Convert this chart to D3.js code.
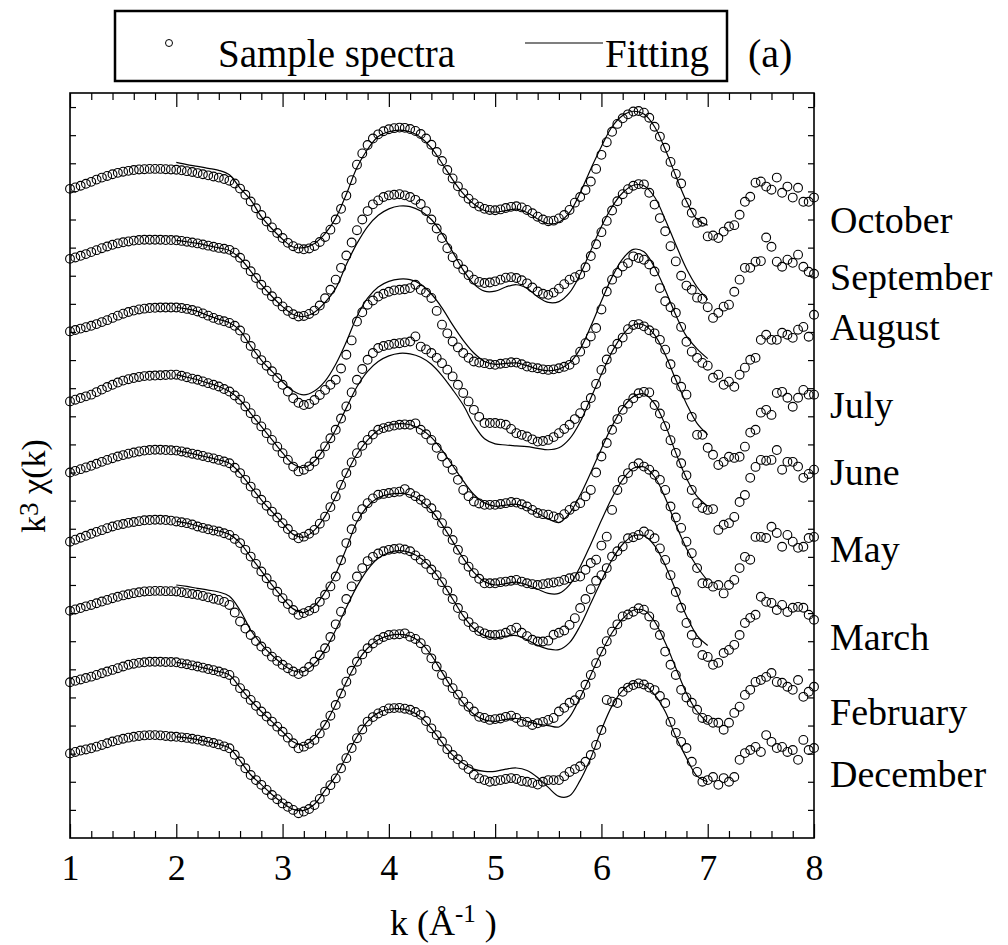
<!DOCTYPE html>
<html>
<head>
<meta charset="utf-8">
<script src="https://cdn.jsdelivr.net/npm/d3@7"></script>
<style>
  body { margin: 0; background: #fff; }
  svg { display: block; font-family: "Liberation Serif", "Times New Roman", serif; }
</style>
</head>
<body>
<div id="chart"></div>
<script>
// sampling of the measured spectra and of the fitted curves (k, 1/A)
var kStart = 1, kStep = 0.05, kCount = 141;
var fitStart = 2, fitStep = 0.1, fitCount = 51;

var months = ['October', 'September', 'August', 'July', 'June', 'May', 'March', 'February', 'December'];
// vertical shift of every spectrum, in y units
var offsets = [23, 20.5, 18, 15.5, 13, 10.5, 8, 5.5, 3];
// where the month names sit, in y units
var labelLevels = [21.53, 19.5, 17.72, 14.95, 12.56, 9.82, 6.69, 4.02, 1.81];

var xTicks = [1, 2, 3, 4, 5, 6, 7, 8];

// k^3 chi(k), one row per unit of k (k = 1.00 ... 1.95, 2.00 ... 2.95, ...)
var octSpectra = [
  0.09, 0.14, 0.20, 0.27, 0.34, 0.42, 0.49, 0.55, 0.61, 0.66, 0.70, 0.73, 0.76, 0.78, 0.79, 0.80, 0.80, 0.80, 0.79, 0.78,
  0.77, 0.75, 0.72, 0.69, 0.65, 0.61, 0.57, 0.53, 0.49, 0.44, 0.38, 0.28, 0.10, -0.12, -0.36, -0.60, -0.84, -1.07, -1.28, -1.48,
  -1.66, -1.83, -1.95, -2.03, -2.06, -2.03, -1.94, -1.80, -1.62, -1.36, -1.00, -0.62, -0.15, 0.40, 0.95, 1.35, 1.65, 1.88, 2.03, 2.14,
  2.21, 2.25, 2.27, 2.26, 2.22, 2.15, 2.04, 1.88, 1.66, 1.40, 1.08, 0.76, 0.46, 0.18, -0.06, -0.26, -0.42, -0.54, -0.62, -0.66,
  -0.67, -0.64, -0.59, -0.55, -0.53, -0.57, -0.66, -0.78, -0.90, -1.00, -1.06, -1.04, -0.96, -0.84, -0.66, -0.40, -0.20, 0.05, 0.35, 0.80,
  1.30, 1.75, 2.12, 2.40, 2.60, 2.74, 2.84, 2.86, 2.80, 2.62, 2.30, 1.95, 1.55, 1.05, 0.62, 0.28, -0.40, -0.76, -1.12, -1.08,
  -1.60, -1.57, -1.66, -1.43, -1.25, -1.20, -0.83, -0.37, -0.19, 0.31, 0.35, 0.17, 0.06, 0.49, -0.05, 0.17, -0.22, 0.13, -0.37, -0.37,
  -0.22
];
var sepSpectra = [
  0.10, 0.15, 0.21, 0.27, 0.34, 0.41, 0.48, 0.54, 0.60, 0.65, 0.69, 0.72, 0.75, 0.77, 0.78, 0.78, 0.78, 0.78, 0.77, 0.77,
  0.76, 0.74, 0.71, 0.68, 0.65, 0.61, 0.57, 0.53, 0.49, 0.46, 0.42, 0.32, 0.14, -0.10, -0.34, -0.58, -0.82, -1.03, -1.23, -1.42,
  -1.59, -1.75, -1.87, -1.95, -1.93, -1.86, -1.74, -1.56, -1.30, -1.00, -0.64, -0.22, 0.22, 0.68, 1.12, 1.50, 1.80, 2.04, 2.18, 2.30,
  2.36, 2.38, 2.40, 2.36, 2.30, 2.20, 2.05, 1.80, 1.50, 1.18, 0.84, 0.48, 0.16, -0.08, -0.28, -0.48, -0.64, -0.72, -0.76, -0.74,
  -0.70, -0.64, -0.57, -0.55, -0.58, -0.66, -0.77, -0.92, -1.06, -1.14, -1.18, -1.10, -0.96, -0.80, -0.64, -0.55, -0.46, -0.20, 0.20, 0.62,
  1.05, 1.45, 1.82, 2.15, 2.40, 2.58, 2.70, 2.76, 2.75, 2.45, 2.03, 1.55, 1.08, 0.55, 0.01, -0.50, -0.85, -1.00, -1.28, -1.32,
  -1.62, -2.00, -1.82, -1.60, -1.53, -1.07, -0.64, -0.22, -0.22, 0.00, 0.02, 0.86, 0.53, 0.00, -0.18, 0.07, -0.04, 0.25, -0.18, -0.36,
  -0.43
];
var augSpectra = [
  0.02, 0.07, 0.12, 0.17, 0.22, 0.28, 0.35, 0.42, 0.50, 0.58, 0.65, 0.71, 0.76, 0.80, 0.83, 0.85, 0.86, 0.87, 0.87, 0.87,
  0.87, 0.85, 0.82, 0.78, 0.73, 0.66, 0.58, 0.50, 0.43, 0.38, 0.32, 0.22, 0.05, -0.22, -0.50, -0.78, -1.00, -1.20, -1.40, -1.64,
  -1.88, -2.12, -2.36, -2.52, -2.60, -2.56, -2.42, -2.24, -2.06, -1.88, -1.70, -1.30, -0.81, -0.30, 0.37, 0.70, 0.97, 1.12, 1.26, 1.36,
  1.43, 1.48, 1.50, 1.52, 1.56, 1.68, 1.50, 1.40, 1.21, 0.75, 0.26, -0.05, -0.34, -0.55, -0.75, -0.92, -1.05, -1.09, -1.11, -1.15,
  -1.17, -1.13, -1.11, -1.08, -1.09, -1.15, -1.23, -1.26, -1.29, -1.33, -1.35, -1.33, -1.29, -1.24, -1.17, -1.00, -0.70, -0.40, -0.16, 0.14,
  0.80, 1.44, 1.86, 2.10, 2.33, 2.45, 2.69, 2.63, 2.57, 2.40, 2.15, 1.56, 1.09, 0.88, 0.68, 0.18, -0.35, -0.70, -0.92, -1.10,
  -1.20, -1.63, -1.52, -1.88, -1.77, -1.95, -1.52, -1.27, -0.99, -0.92, -0.28, -0.10, -0.28, -0.28, -0.03, -0.10, -0.21, 0.08, 0.18, -0.17,
  0.61
];
var julSpectra = [
  0.03, 0.09, 0.15, 0.21, 0.27, 0.36, 0.45, 0.54, 0.62, 0.70, 0.77, 0.82, 0.86, 0.90, 0.93, 0.94, 0.95, 0.96, 0.97, 0.98,
  0.98, 0.94, 0.89, 0.84, 0.80, 0.74, 0.68, 0.62, 0.56, 0.47, 0.38, 0.24, 0.09, -0.15, -0.39, -0.62, -0.86, -1.10, -1.34, -1.58,
  -1.81, -2.05, -2.29, -2.46, -2.40, -2.28, -2.11, -1.86, -1.57, -1.28, -0.98, -0.58, -0.15, 0.35, 0.80, 1.18, 1.51, 1.75, 1.93, 2.00,
  2.04, 2.08, 2.10, 2.13, 2.16, 2.34, 1.98, 1.88, 1.75, 1.58, 1.39, 1.16, 0.92, 0.62, 0.33, 0.03, -0.27, -0.52, -0.74, -0.74,
  -0.74, -0.76, -0.80, -0.95, -1.10, -1.16, -1.22, -1.32, -1.40, -1.38, -1.34, -1.24, -1.10, -0.95, -0.80, -0.60, -0.39, -0.12, 0.15, 0.65,
  1.15, 1.52, 1.87, 2.08, 2.30, 2.60, 2.75, 2.78, 2.70, 2.56, 2.45, 2.22, 1.87, 1.35, 0.80, 0.55, 0.27, -0.52, -1.16, -1.16,
  -1.62, -1.87, -2.23, -2.12, -1.94, -1.98, -1.94, -1.58, -1.08, -0.98, -0.37, -0.27, -0.45, 0.33, 0.37, 0.16, -0.16, 0.16, 0.44, 0.27,
  0.27
];
var junSpectra = [
  0.00, 0.06, 0.12, 0.18, 0.24, 0.31, 0.38, 0.45, 0.51, 0.57, 0.62, 0.67, 0.71, 0.75, 0.78, 0.80, 0.81, 0.81, 0.80, 0.79,
  0.78, 0.75, 0.71, 0.67, 0.63, 0.59, 0.54, 0.50, 0.45, 0.39, 0.33, 0.17, -0.02, -0.26, -0.50, -0.74, -0.97, -1.18, -1.39, -1.60,
  -1.80, -2.01, -2.22, -2.34, -2.28, -2.18, -2.04, -1.82, -1.57, -1.23, -0.85, -0.44, -0.02, 0.36, 0.69, 0.95, 1.16, 1.35, 1.52, 1.58,
  1.63, 1.67, 1.70, 1.71, 1.70, 1.75, 1.52, 1.36, 1.16, 0.88, 0.57, 0.34, 0.10, -0.26, -0.62, -0.84, -1.03, -1.10, -1.15, -1.15,
  -1.15, -1.12, -1.09, -1.05, -1.07, -1.13, -1.21, -1.33, -1.44, -1.48, -1.50, -1.56, -1.62, -1.48, -1.33, -1.20, -1.09, -0.85, -0.62, 0.00,
  0.57, 1.05, 1.52, 1.90, 2.23, 2.45, 2.64, 2.82, 2.87, 2.85, 2.40, 2.10, 1.65, 1.15, 0.70, 0.33, -0.10, -0.62, -1.09, -1.26,
  -1.33, -1.30, -2.04, -1.86, -1.80, -1.58, -1.05, -0.80, -0.19, 0.20, 0.45, 0.42, 0.45, 0.80, 0.10, 0.38, 0.38, 0.21, -0.19, -0.05,
  0.10
];
var maySpectra = [
  0.04, 0.11, 0.18, 0.25, 0.32, 0.39, 0.45, 0.52, 0.58, 0.63, 0.67, 0.71, 0.74, 0.77, 0.80, 0.81, 0.82, 0.82, 0.81, 0.79,
  0.76, 0.73, 0.70, 0.65, 0.58, 0.53, 0.48, 0.44, 0.40, 0.34, 0.28, 0.14, -0.01, -0.25, -0.49, -0.75, -1.02, -1.26, -1.50, -1.74,
  -1.97, -2.18, -2.39, -2.56, -2.50, -2.42, -2.33, -2.10, -1.85, -1.55, -1.20, -0.62, -0.01, 0.48, 0.93, 1.20, 1.41, 1.58, 1.71, 1.74,
  1.77, 1.80, 1.82, 1.91, 1.77, 1.66, 1.53, 1.40, 1.23, 0.98, 0.70, 0.40, 0.10, -0.25, -0.61, -0.85, -1.08, -1.28, -1.44, -1.44,
  -1.44, -1.40, -1.38, -1.35, -1.32, -1.38, -1.44, -1.47, -1.50, -1.47, -1.44, -1.41, -1.38, -1.32, -1.26, -1.22, -1.20, -0.96, -0.72, -0.60,
  -0.10, 0.22, 1.17, 1.88, 2.24, 2.48, 2.71, 2.83, 2.71, 2.60, 2.42, 2.24, 1.88, 1.29, 0.90, 0.53, 0.04, -0.37, -0.90, -1.44,
  -1.44, -1.56, -1.50, -1.80, -1.50, -1.32, -0.90, -0.50, -0.60, 0.21, 0.21, 0.17, 0.57, 0.35, -0.14, 0.28, 0.04, -0.18, -0.14, 0.17,
  0.21
];
var marSpectra = [
  0.08, 0.13, 0.18, 0.24, 0.29, 0.35, 0.41, 0.47, 0.53, 0.58, 0.63, 0.67, 0.71, 0.74, 0.77, 0.78, 0.79, 0.79, 0.78, 0.78,
  0.77, 0.74, 0.71, 0.68, 0.65, 0.61, 0.56, 0.51, 0.47, 0.40, 0.29, 0.02, -0.30, -0.55, -0.78, -0.99, -1.19, -1.37, -1.55, -1.70,
  -1.84, -1.96, -2.08, -2.17, -2.08, -1.92, -1.73, -1.50, -1.25, -0.85, -0.40, 0.05, 0.50, 0.95, 1.30, 1.60, 1.85, 2.00, 2.12, 2.20,
  2.25, 2.28, 2.30, 2.26, 2.20, 2.05, 1.90, 1.75, 1.55, 1.35, 1.10, 0.80, 0.50, 0.18, -0.10, -0.32, -0.50, -0.64, -0.72, -0.78,
  -0.78, -0.76, -0.70, -0.60, -0.52, -0.70, -0.82, -0.95, -1.01, -1.01, -0.98, -0.77, -0.70, -0.62, -0.42, -0.18, 0.18, 0.50, 0.85, 1.15,
  1.35, 1.60, 2.01, 2.20, 2.37, 2.66, 2.70, 2.78, 2.90, 2.80, 2.66, 2.30, 1.89, 1.35, 0.75, 0.19, -0.35, -0.78, -1.06, -1.49,
  -1.56, -1.84, -1.77, -1.42, -1.31, -1.13, -0.78, -0.35, -0.17, -0.06, 0.58, 0.40, 0.36, 0.11, 0.29, 0.04, 0.19, 0.22, 0.19, -0.06,
  -0.24
];
var febSpectra = [
  0.04, 0.09, 0.14, 0.19, 0.24, 0.30, 0.36, 0.42, 0.48, 0.54, 0.60, 0.66, 0.70, 0.73, 0.75, 0.77, 0.77, 0.77, 0.76, 0.76,
  0.75, 0.71, 0.68, 0.64, 0.60, 0.56, 0.51, 0.47, 0.42, 0.36, 0.30, 0.08, -0.17, -0.38, -0.59, -0.80, -1.00, -1.18, -1.36, -1.54,
  -1.72, -1.93, -2.13, -2.31, -2.25, -2.15, -2.01, -1.78, -1.48, -1.15, -0.77, -0.36, 0.06, 0.45, 0.77, 1.03, 1.25, 1.42, 1.55, 1.65,
  1.72, 1.74, 1.75, 1.78, 1.66, 1.58, 1.43, 1.20, 0.89, 0.60, 0.30, 0.06, -0.17, -0.40, -0.65, -0.83, -1.00, -1.19, -1.23, -1.30,
  -1.27, -1.25, -1.19, -1.15, -1.23, -1.37, -1.37, -1.48, -1.42, -1.37, -1.30, -1.23, -1.00, -0.87, -0.69, -0.60, -0.41, -0.05, 0.30, 0.72,
  1.13, 1.50, 1.84, 2.10, 2.38, 2.45, 2.55, 2.67, 2.62, 2.38, 2.08, 1.72, 1.13, 0.66, 0.30, -0.23, -0.50, -0.69, -0.94, -1.23,
  -1.30, -1.40, -1.40, -1.65, -1.40, -1.05, -0.83, -0.41, -0.23, 0.05, 0.12, 0.23, 0.37, 0.05, 0.02, -0.12, -0.23, 0.12, -0.48, -0.30,
  -0.12
];
var decSpectra = [
  0.01, 0.06, 0.11, 0.15, 0.19, 0.25, 0.31, 0.37, 0.43, 0.48, 0.53, 0.57, 0.60, 0.63, 0.65, 0.66, 0.66, 0.65, 0.63, 0.61,
  0.60, 0.58, 0.56, 0.53, 0.50, 0.46, 0.42, 0.38, 0.33, 0.26, 0.19, -0.04, -0.28, -0.52, -0.76, -0.94, -1.11, -1.29, -1.47, -1.62,
  -1.77, -1.89, -2.00, -2.12, -2.06, -1.97, -1.83, -1.61, -1.35, -1.12, -0.88, -0.52, -0.16, 0.20, 0.55, 0.86, 1.14, 1.30, 1.43, 1.52,
  1.61, 1.62, 1.63, 1.60, 1.56, 1.48, 1.38, 1.16, 0.90, 0.66, 0.43, 0.16, -0.05, -0.20, -0.40, -0.55, -0.75, -0.88, -0.94, -1.00,
  -0.97, -0.94, -0.90, -0.87, -0.90, -0.97, -1.00, -1.04, -1.10, -1.00, -0.94, -0.94, -0.94, -0.80, -0.65, -0.55, -0.45, -0.29, -0.05, 0.31,
  0.84, 1.91, 1.85, 1.80, 2.20, 2.35, 2.44, 2.50, 2.46, 2.35, 2.26, 2.05, 1.80, 1.13, 0.74, 0.42, 0.20, -0.29, -0.65, -1.00,
  -0.94, -0.83, -1.11, -0.87, -1.00, -0.83, -0.22, 0.02, 0.13, 0.24, 0.06, 0.66, 0.42, 0.20, 0.24, 0.06, 0.13, -0.22, 0.49, 0.13,
  0.20
];

// fitted curves, k = 2.0 ... 7.0 in steps of 0.1
var octFit = [
  1.03, 0.95, 0.89, 0.82, 0.75, 0.59, 0.12, -0.30, -0.90, -1.33,
  -1.70, -1.98, -2.00, -1.85, -1.50, -0.95, -0.10, 0.85, 1.50, 1.95,
  2.12, 2.18, 2.12, 1.92, 1.55, 1.00, 0.42, -0.08, -0.45, -0.68,
  -0.74, -0.68, -0.63, -0.75, -0.98, -1.15, -1.10, -0.75, -0.05, 0.80,
  1.60, 2.30, 2.70, 2.85, 2.75, 2.30, 1.50, 0.55, -0.35, -1.00,
  -1.20
];
var sepFit = [
  0.76, 0.71, 0.65, 0.57, 0.49, 0.40, 0.12, -0.34, -0.82, -1.24,
  -1.60, -1.88, -1.95, -1.80, -1.45, -0.95, -0.10, 0.65, 1.25, 1.65,
  1.88, 1.98, 1.96, 1.80, 1.50, 1.00, 0.35, -0.30, -0.80, -1.05,
  -1.05, -0.90, -0.82, -0.95, -1.25, -1.45, -1.42, -1.10, -0.45, 0.40,
  1.25, 1.95, 2.45, 2.72, 2.70, 2.30, 1.50, 0.60, -0.25, -0.90,
  -1.35
];
var augFit = [
  0.87, 0.82, 0.73, 0.58, 0.45, 0.33, 0.05, -0.50, -1.00, -1.40,
  -1.78, -2.10, -2.24, -2.10, -1.75, -1.15, -0.35, 0.55, 1.20, 1.60,
  1.80, 1.88, 1.86, 1.70, 1.35, 0.86, 0.25, -0.30, -0.75, -1.05,
  -1.15, -1.12, -1.10, -1.20, -1.32, -1.38, -1.32, -1.10, -0.60, 0.20,
  1.10, 1.95, 2.60, 2.94, 2.85, 2.30, 1.50, 0.60, -0.15, -0.60,
  -0.95
];
var julFit = [
  0.98, 0.89, 0.80, 0.68, 0.56, 0.38, 0.08, -0.40, -0.86, -1.33,
  -1.80, -2.20, -2.32, -2.10, -1.60, -0.98, -0.20, 0.55, 1.10, 1.45,
  1.65, 1.74, 1.72, 1.60, 1.35, 0.95, 0.45, -0.10, -0.80, -1.30,
  -1.48, -1.52, -1.55, -1.58, -1.64, -1.69, -1.62, -1.30, -0.70, 0.15,
  1.00, 1.80, 2.40, 2.75, 2.75, 2.40, 1.70, 0.80, -0.05, -0.75,
  -1.15
];
var junFit = [
  0.78, 0.71, 0.63, 0.54, 0.45, 0.33, -0.02, -0.50, -0.97, -1.39,
  -1.80, -2.20, -2.30, -2.05, -1.55, -0.85, -0.05, 0.65, 1.15, 1.50,
  1.68, 1.74, 1.70, 1.55, 1.25, 0.80, 0.25, -0.30, -0.78, -1.08,
  -1.20, -1.16, -1.13, -1.25, -1.45, -1.65, -1.78, -1.45, -0.80, 0.00,
  0.85, 1.65, 2.30, 2.70, 2.80, 2.45, 1.70, 0.70, -0.20, -0.85,
  -1.20
];
var mayFit = [
  0.76, 0.70, 0.60, 0.50, 0.42, 0.30, 0.00, -0.50, -1.00, -1.50,
  -1.95, -2.35, -2.48, -2.25, -1.75, -1.10, -0.20, 0.75, 1.30, 1.60,
  1.72, 1.76, 1.70, 1.50, 1.15, 0.65, 0.05, -0.55, -1.05, -1.38,
  -1.50, -1.45, -1.40, -1.50, -1.65, -1.80, -1.80, -1.50, -0.85, -0.05,
  0.80, 1.60, 2.25, 2.65, 2.70, 2.35, 1.60, 0.65, -0.20, -0.85,
  -1.35
];
var marFit = [
  1.00, 0.95, 0.88, 0.82, 0.75, 0.60, 0.10, -0.60, -1.10, -1.50,
  -1.82, -2.05, -2.08, -1.80, -1.30, -0.60, 0.20, 0.95, 1.55, 1.95,
  2.15, 2.22, 2.15, 1.95, 1.60, 1.10, 0.50, -0.10, -0.55, -0.80,
  -0.88, -0.82, -0.80, -0.95, -1.15, -1.28, -1.30, -1.05, -0.45, 0.35,
  1.15, 1.90, 2.45, 2.75, 2.75, 2.40, 1.70, 0.80, -0.10, -0.80,
  -1.15
];
var febFit = [
  0.75, 0.68, 0.60, 0.51, 0.42, 0.30, -0.15, -0.60, -1.00, -1.36,
  -1.72, -2.08, -2.20, -1.95, -1.45, -0.75, 0.05, 0.75, 1.25, 1.55,
  1.70, 1.74, 1.68, 1.45, 1.00, 0.40, -0.20, -0.70, -1.10, -1.30,
  -1.35, -1.28, -1.25, -1.35, -1.45, -1.50, -1.55, -1.20, -0.50, 0.30,
  1.10, 1.80, 2.30, 2.60, 2.60, 2.20, 1.45, 0.55, -0.35, -1.00,
  -1.40
];
var decFit = [
  0.60, 0.56, 0.50, 0.42, 0.33, 0.20, -0.25, -0.75, -1.10, -1.45,
  -1.75, -1.98, -2.02, -1.80, -1.30, -0.80, -0.10, 0.60, 1.15, 1.45,
  1.58, 1.60, 1.52, 1.30, 0.90, 0.40, -0.05, -0.35, -0.55, -0.63,
  -0.63, -0.55, -0.51, -0.60, -0.85, -1.20, -1.52, -1.50, -0.95, -0.15,
  0.85, 1.70, 2.25, 2.50, 2.45, 2.10, 1.50, 0.60, -0.15, -0.80,
  -1.00
];

var spectra = [octSpectra, sepSpectra, augSpectra, julSpectra, junSpectra, maySpectra, marSpectra, febSpectra, decSpectra];
var fits = [octFit, sepFit, augFit, julFit, junFit, mayFit, marFit, febFit, decFit];


SpectraChart = (function() {
    function SpectraChart(selector) {
        var self = this;
        self.container = d3.select(selector);
        self.margin = m = { top: 93, left: 70, right: 194, bottom: 107 };
        self.totalWidth = 1008;
        self.totalHeight = 945;
        self.width = self.totalWidth - m.left - m.right;
        self.height = self.totalHeight - m.top - m.bottom;

        self.x = d3.scaleLinear().domain([1, 8]).range([0, self.width]);
        self.y = d3.scaleLinear().domain([0, 26.5]).range([self.height, 0]);

        self.series = months.map(function(name, i) {
            return { name: name, offset: offsets[i], level: labelLevels[i], values: spectra[i], fit: fits[i] };
        });

        self.drawBase();
        self.drawAxes();
        self.drawSeries();
        self.drawLegend();
    }

    SpectraChart.prototype.drawBase = function() {
        var self = this;
        var m = self.margin;
        self.svg = self.container.append('svg')
            .attr('width', self.totalWidth)
            .attr('height', self.totalHeight);
        self.svg.append('rect')
            .attr('width', self.totalWidth)
            .attr('height', self.totalHeight)
            .attr('fill', '#fff');
        self.chart = self.svg.append('g')
            .attr('transform', 'translate(' + m.left + ',' + m.top + ')');
    };

    SpectraChart.prototype.drawAxes = function() {
        var self = this;
        var x = self.x, y = self.y;
        var minor = d3.range(5, 41).filter(function(i) { return i % 5 !== 0; }).map(function(i) { return i / 5; });
        var yTicks = d3.range(1, 27);

        function style(g) {
            g.select('.domain').remove();
            g.selectAll('line').attr('stroke', '#000').attr('stroke-width', 1.2);
            g.attr('font-family', null);
        }

        // major and minor k ticks, bottom and top, pointing inside
        self.chart.append('g')
            .attr('transform', 'translate(0,' + self.height + ')')
            .call(d3.axisBottom(x).tickValues(xTicks).tickSize(-14).tickSizeOuter(0).tickPadding(16).tickFormat(d3.format('d')))
            .call(style)
            .attr('font-size', 36)
            .selectAll('text').attr('fill', '#000');
        self.chart.append('g')
            .attr('transform', 'translate(0,' + self.height + ')')
            .call(d3.axisBottom(x).tickValues(minor).tickSize(-7).tickSizeOuter(0).tickFormat(''))
            .call(style);
        self.chart.append('g')
            .call(d3.axisTop(x).tickValues(xTicks).tickSize(-14).tickSizeOuter(0).tickFormat(''))
            .call(style);
        self.chart.append('g')
            .call(d3.axisTop(x).tickValues(minor).tickSize(-7).tickSizeOuter(0).tickFormat(''))
            .call(style);

        // plain y ticks on both sides, no labels
        self.chart.append('g')
            .call(d3.axisLeft(y).tickValues(yTicks).tickSize(-6).tickSizeOuter(0).tickFormat(''))
            .call(style);
        self.chart.append('g')
            .attr('transform', 'translate(' + self.width + ',0)')
            .call(d3.axisRight(y).tickValues(yTicks).tickSize(-6).tickSizeOuter(0).tickFormat(''))
            .call(style);

        self.chart.append('rect')
            .attr('width', self.width)
            .attr('height', self.height)
            .attr('fill', 'none')
            .attr('stroke', '#000')
            .attr('stroke-width', 1.6);

        // axis titles
        var xt = self.svg.append('text')
            .attr('x', 390)
            .attr('y', 935)
            .attr('font-size', 36)
            .attr('fill', '#000');
        xt.append('tspan').text('k (\u00C5');
        xt.append('tspan').attr('font-size', 25).attr('dy', -13).text('-1');
        xt.append('tspan').attr('dy', 13).text(' )');

        var yt = self.svg.append('text')
            .attr('transform', 'translate(45,486) rotate(-90)')
            .attr('text-anchor', 'middle')
            .attr('font-size', 34)
            .attr('fill', '#000');
        yt.append('tspan').text('k');
        yt.append('tspan').attr('font-size', 27).attr('dy', -7).text('3');
        yt.append('tspan').attr('dy', 7).text(' \u03C7(k)');
    };

    SpectraChart.prototype.drawSeries = function() {
        var self = this;
        var x = self.x, y = self.y;

        var groups = self.chart.selectAll('.month')
            .data(self.series)
            .enter()
            .append('g')
            .attr('class', 'month');

        groups.selectAll('circle')
            .data(function(d) { return d.values.map(function(v, j) { return { k: kStart + j * kStep, v: v + d.offset }; }); })
            .enter()
            .append('circle')
            .attr('cx', function(d) { return x(d.k); })
            .attr('cy', function(d) { return y(d.v); })
            .attr('r', 4.4)
            .attr('fill', 'none')
            .attr('stroke', '#000')
            .attr('stroke-width', 1.1);

        var line = d3.line()
            .x(function(d) { return x(d.k); })
            .y(function(d) { return y(d.v); })
            .curve(d3.curveCatmullRom);

        groups.append('path')
            .attr('d', function(d) {
                return line(d.fit.map(function(v, j) { return { k: fitStart + j * fitStep, v: v + d.offset }; }));
            })
            .attr('fill', 'none')
            .attr('stroke', '#000')
            .attr('stroke-width', 1.2);

        // month names to the right of the frame
        groups.append('text')
            .attr('x', self.width + 16)
            .attr('y', function(d) { return y(d.level); })
            .attr('font-size', 38)
            .attr('fill', '#000')
            .text(function(d) { return d.name; });
    };

    SpectraChart.prototype.drawLegend = function() {
        var self = this;
        var lg = self.svg.append('g');
        lg.append('rect')
            .attr('x', 115).attr('y', 11)
            .attr('width', 612).attr('height', 70)
            .attr('fill', '#fff')
            .attr('stroke', '#000')
            .attr('stroke-width', 2.5);
        lg.append('circle')
            .attr('cx', 169).attr('cy', 43).attr('r', 3.5)
            .attr('fill', 'none').attr('stroke', '#000').attr('stroke-width', 1);
        lg.append('text')
            .attr('x', 218).attr('y', 67)
            .attr('font-size', 39).attr('fill', '#000')
            .text('Sample spectra');
        lg.append('line')
            .attr('x1', 525).attr('x2', 603)
            .attr('y1', 43).attr('y2', 43)
            .attr('stroke', '#000').attr('stroke-width', 1.2);
        lg.append('text')
            .attr('x', 605).attr('y', 67)
            .attr('font-size', 39).attr('fill', '#000')
            .text('Fitting');
        self.svg.append('text')
            .attr('x', 748).attr('y', 67)
            .attr('font-size', 40).attr('fill', '#000')
            .text('(a)');
    };

    return SpectraChart;
})();

new SpectraChart('#chart');
</script>
</body>
</html>
